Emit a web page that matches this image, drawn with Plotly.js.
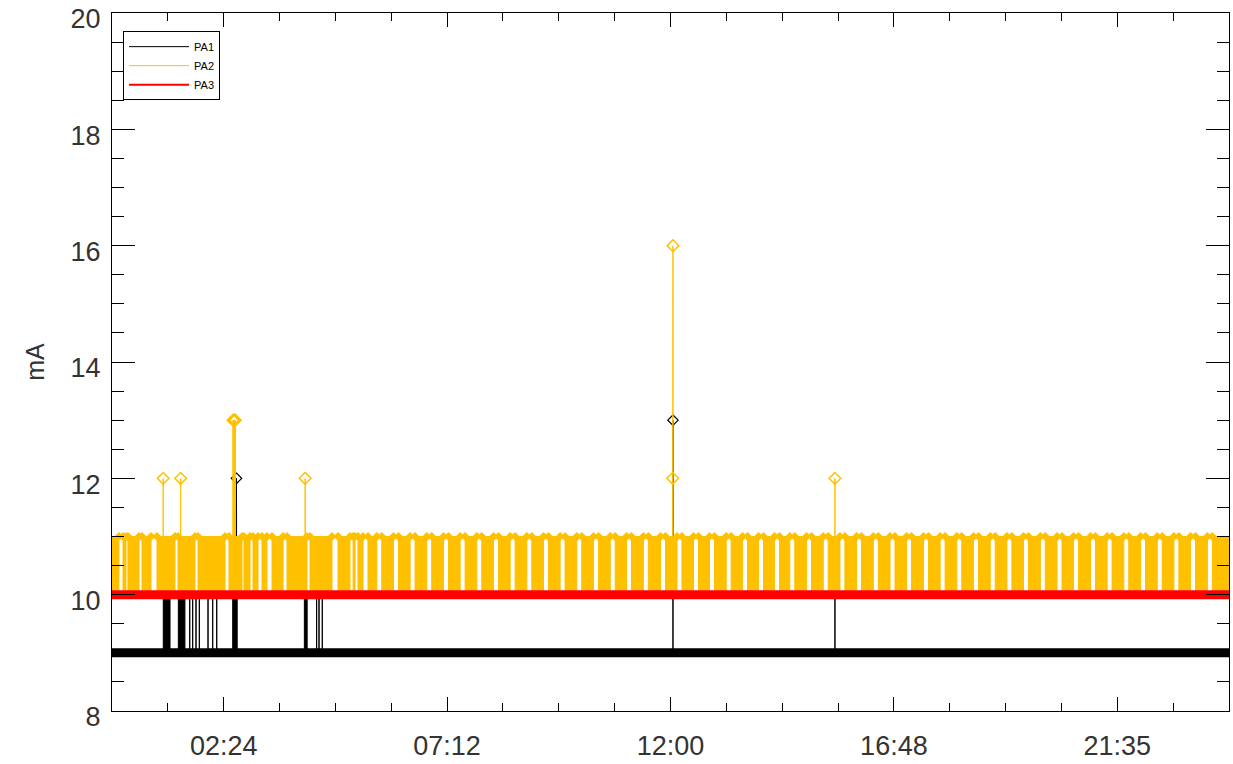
<!DOCTYPE html>
<html>
<head>
<meta charset="utf-8">
<script src="https://cdn.plot.ly/plotly-3.0.1.min.js"></script>
<style>html,body{margin:0;padding:0;background:#fff}</style>
</head>
<body>
<div id="chart" style="width:1233px;height:764px"></div>
<script>
// ---- time axis (minutes of the day) ----
const dayStart = 0;
const dayEnd = 1440;
const xTickValues = [144, 432, 720, 1008, 1296];
const xTickLabels = ['02:24', '07:12', '12:00', '16:48', '21:35'];
const seriesNames = ['PA1', 'PA2', 'PA3'];
const yTitle = 'mA';

// ---- PA1 : resting at 9 mA with excursions ----
const pa1Base = 9;
const pa1EventStart = [66.1, 85.5, 100.2, 104.0, 108.3, 112.6, 123.8, 129.8, 135.0, 155.6, 160.5, 160.7, 248.0, 263.8, 266.9, 271.1, 723.2, 932.0];
const pa1EventEnd   = [74.8, 94.0, 100.2, 104.0, 108.3, 112.6, 123.8, 129.8, 135.0, 160.3, 160.5, 161.4, 251.6, 263.8, 266.9, 271.1, 723.2, 932.0];
const pa1EventValue = [10, 10, 10, 10, 10, 10, 10, 10, 10, 10, 12, 10, 10, 10, 10, 10, 13, 10];

// ---- PA2 : mostly 11 mA, dropping to 10 mA in gaps, with spikes ----
const pa2Base = 11;
const pa2GapValue = 10;
const pa2GapStart = [9.0, 18.0, 34.8, 50.3, 81.2, 107.0, 145.7, 167.6, 177.9, 188.2, 199.8, 220.5, 251.4, 283.6, 306.8, 313.3, 323.6,
  341.4, 362.9, 384.3, 405.8, 427.4, 448.8, 470.3, 491.9, 513.3, 534.8, 556.3, 577.7, 599.2, 620.8, 642.3, 663.3, 685.0, 707.1,
  728.4, 749.7, 770.3, 791.8, 812.9, 833.5, 854.1, 873.8, 895.4, 916.9, 938.4, 959.8, 981.5, 1003.0, 1024.3, 1046.2, 1067.6,
  1089.1, 1110.7, 1132.2, 1153.7, 1175.1, 1196.8, 1218.3, 1239.6, 1261.5, 1282.9, 1304.4, 1326.0, 1347.5, 1369.0, 1390.4, 1412.1];
const pa2GapEnd = [14.2, 20.6, 38.7, 58.0, 85.1, 110.9, 150.8, 170.2, 181.8, 193.4, 206.3, 225.6, 255.3, 291.4, 310.8, 317.1, 330.0,
  347.8, 369.3, 390.7, 412.2, 433.8, 455.2, 476.7, 498.3, 519.7, 541.2, 562.7, 584.1, 605.6, 627.2, 648.7, 669.7, 691.4, 713.5,
  734.8, 756.1, 776.7, 798.2, 819.3, 839.9, 860.5, 880.2, 901.8, 923.3, 944.8, 966.2, 987.9, 1009.4, 1030.7, 1052.6, 1074.0,
  1095.5, 1117.1, 1138.6, 1160.1, 1181.5, 1203.2, 1224.7, 1246.0, 1267.9, 1289.3, 1310.8, 1332.4, 1353.9, 1375.4, 1396.8, 1418.5];
const pa2SpikeTime  = [66.0, 88.5, 156.0, 157.0, 158.0, 159.0, 249.0, 722.8, 723.2, 932.0];
const pa2SpikeValue = [12, 12, 13, 13, 13, 13, 12, 12, 16, 12];

// ---- PA3 : flat 10 mA ----
const pa3Time = [0, 1440];
const pa3Value = [10, 10];

// ---- colours ----
const cBlack = '#000000';
const cYellow = '#FFC000';
const cRed = '#FF0000';

// build PA1 line from events
function buildPA1() {
  const x = [dayStart], y = [pa1Base];
  for (let i = 0; i < pa1EventStart.length; i++) {
    x.push(pa1EventStart[i], pa1EventStart[i], pa1EventEnd[i], pa1EventEnd[i]);
    y.push(pa1Base, pa1EventValue[i], pa1EventValue[i], pa1Base);
  }
  x.push(dayEnd); y.push(pa1Base);
  return {x, y};
}
// build PA2 line from gaps and spikes
function buildPA2() {
  const ev = [];
  pa2GapStart.forEach((s, i) => ev.push({t: s, e: pa2GapEnd[i], gap: true}));
  pa2SpikeTime.forEach((t, i) => ev.push({t: t, v: pa2SpikeValue[i], gap: false}));
  ev.sort((a, b) => a.t - b.t);
  const x = [dayStart], y = [pa2Base];
  ev.forEach(o => {
    if (o.gap) { x.push(o.t, o.t, o.e, o.e); y.push(pa2Base, pa2GapValue, pa2GapValue, pa2Base); }
    else { x.push(o.t, o.t, o.t); y.push(pa2Base, o.v, pa2Base); }
  });
  x.push(dayEnd); y.push(pa2Base);
  return {x, y};
}
const p1 = buildPA1();
const p2 = buildPA2();
const pa1HiX = [], pa1HiY = [];
pa1EventValue.forEach((v, i) => { if (v > pa2Base) { pa1HiX.push(pa1EventStart[i]); pa1HiY.push(v); } });
const pa2EdgeX = pa2GapStart.concat(pa2GapEnd);
const pa2EdgeY = pa2EdgeX.map(() => pa2Base);

const traces = [
  // PA1
  {x: p1.x, y: p1.y, type: 'scatter', mode: 'lines', name: seriesNames[0], line: {color: cBlack, width: 1}, hoverinfo: 'skip'},
  {x: [dayStart, dayEnd], y: [pa1Base, pa1Base], type: 'scatter', mode: 'lines', showlegend: false,
   line: {color: cBlack, width: 9}, fill: 'tonexty', fillcolor: cBlack, hoverinfo: 'skip'},
  {x: pa1HiX, y: pa1HiY, type: 'scatter', mode: 'markers', showlegend: false,
   marker: {symbol: 'diamond-open', size: 8, color: cBlack, line: {width: 1.2, color: cBlack}}, hoverinfo: 'skip'},
  // PA2
  {x: p2.x, y: p2.y, type: 'scatter', mode: 'lines', name: seriesNames[1], line: {color: cYellow, width: 1}, hoverinfo: 'skip'},
  {x: pa3Time, y: pa3Value, type: 'scatter', mode: 'lines', showlegend: false,
   line: {color: cYellow, width: 0}, fill: 'tonexty', fillcolor: cYellow, hoverinfo: 'skip'},
  {x: pa2EdgeX, y: pa2EdgeY, type: 'scatter', mode: 'markers', showlegend: false,
   marker: {symbol: 'diamond', size: 7, color: cYellow}, hoverinfo: 'skip'},
  {x: pa2SpikeTime, y: pa2SpikeValue, type: 'scatter', mode: 'markers', showlegend: false,
   marker: {symbol: 'diamond-open', size: 9, color: cYellow, line: {width: 1.5, color: cYellow}}, hoverinfo: 'skip'},
  // PA3
  {x: pa3Time, y: pa3Value, type: 'scatter', mode: 'lines', name: seriesNames[2], line: {color: cRed, width: 2}, hoverinfo: 'skip'},
  {x: pa3Time, y: pa3Value, type: 'scatter', mode: 'lines', showlegend: false, line: {color: cRed, width: 9}, hoverinfo: 'skip'}
];

const tickFont = {family: 'Liberation Sans, Arial, sans-serif', size: 27, color: '#333333'};
const layout = {
  width: 1233, height: 764,
  margin: {l: 112, r: 4, t: 13, b: 53, autoexpand: false},
  paper_bgcolor: '#ffffff', plot_bgcolor: '#ffffff',
  showlegend: true,
  legend: {x: 0.0099, y: 0.974, xanchor: 'left', yanchor: 'top', bgcolor: '#ffffff', traceorder: 'normal',
    bordercolor: '#000000', borderwidth: 1, itemwidth: 60, tracegroupgap: 0,
    font: {family: 'Liberation Sans, Arial, sans-serif', size: 11, color: '#000000'}},
  xaxis: {range: [dayStart, dayEnd], tickmode: 'array', tickvals: xTickValues, ticktext: xTickLabels,
    ticks: 'inside', ticklen: 14, tickwidth: 1, tickcolor: '#000', showline: true, linecolor: '#000', linewidth: 1,
    mirror: 'ticks', showgrid: false, zeroline: false, tickfont: tickFont, ticklabelstandoff: 11,
    ticklabeloverflow: 'allow', fixedrange: true,
    minor: {tickmode: 'linear', tick0: 0, dtick: 72, ticks: 'inside', ticklen: 8, tickwidth: 1, tickcolor: '#000', showgrid: false}},
  yaxis: {range: [8, 20], tickmode: 'linear', tick0: 8, dtick: 2,
    ticks: 'inside', ticklen: 23, tickwidth: 1, tickcolor: '#000', showline: true, linecolor: '#000', linewidth: 1,
    mirror: 'ticks', showgrid: false, zeroline: false, tickfont: tickFont, ticklabelstandoff: 5, ticklabelshift: 6,
    ticklabeloverflow: 'allow', fixedrange: true,
    minor: {tickmode: 'linear', tick0: 8, dtick: 0.5, ticks: 'inside', ticklen: 12, tickwidth: 1, tickcolor: '#000', showgrid: false},
    title: {text: yTitle, standoff: 18, font: {family: 'Liberation Sans, Arial, sans-serif', size: 25, color: '#333333'}}}
};

Plotly.newPlot('chart', traces, layout, {staticPlot: true, displayModeBar: false});
</script>
</body>
</html>
